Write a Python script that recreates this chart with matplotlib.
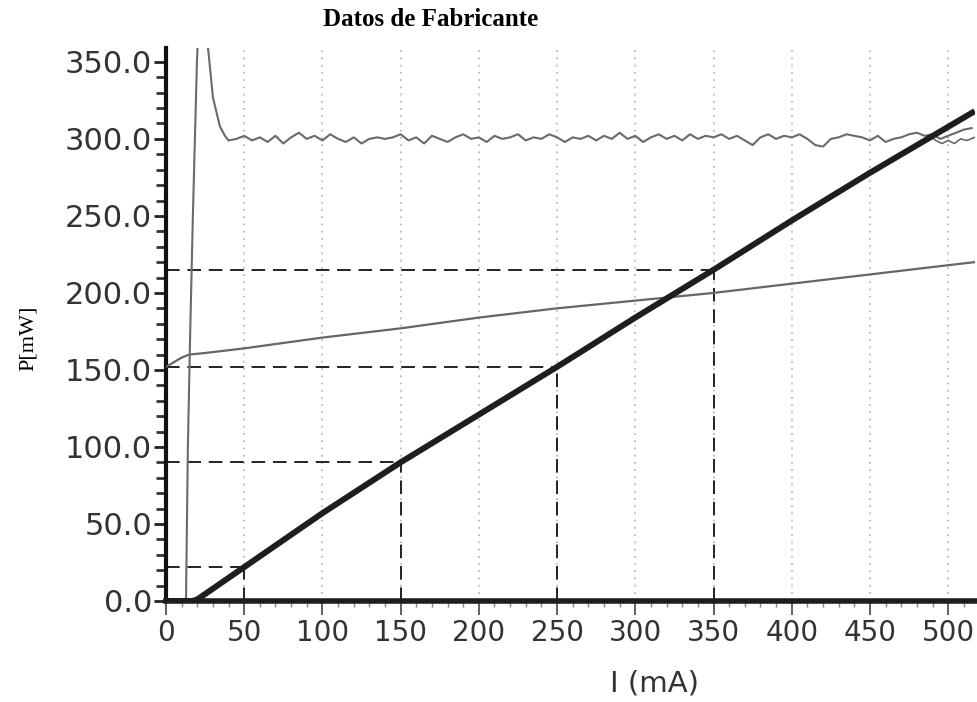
import numpy as np
import matplotlib
matplotlib.use('Agg')
import matplotlib.pyplot as plt
from matplotlib.ticker import MultipleLocator, FormatStrFormatter

# optical power (thick black curve)
power_x = [0, 17, 20, 30, 50, 100, 150, 200, 250, 300, 350, 400, 450, 517]
power_y = [0, 0, 1, 8, 22, 57, 90, 121, 152, 184, 215, 247, 278, 318]

# slowly rising gray curve
volt_x = [0, 5, 10, 15, 25, 50, 100, 150, 200, 250, 300, 350, 400, 450, 500, 517]
volt_y = [152, 155, 158, 160, 161, 164, 171, 177, 184, 190, 195, 200, 206, 212, 218, 220]

# noisy gray curve: spike near threshold, then around 300
spike_x = [12.8, 14, 15.5, 17.2, 18.5, 19.8, 21, 23, 26.8, 30, 34.5, 37.7]
spike_y = [0, 100, 175, 250, 300, 350, 380, 390, 360, 327, 308, 302]
noise_x = list(range(40, 516, 5))
noise_y = [299, 300, 302, 299, 301, 298, 302, 297, 301, 304,
           300, 302, 299, 303, 300, 298, 301, 297, 300, 301,
           300, 301, 303, 299, 301, 297, 302, 300, 298, 301,
           303, 300, 301, 298, 302, 300, 301, 303, 299, 301,
           300, 303, 301, 298, 301, 300, 302, 299, 302, 300,
           304, 300, 302, 298, 301, 303, 300, 302, 299, 303,
           300, 302, 301, 303, 300, 302, 299, 296, 301, 303,
           300, 302, 301, 303, 300, 296, 295, 300, 301, 303,
           302, 301, 299, 302, 298, 300, 301, 303, 304, 302,
           303, 300, 302, 304, 306, 307]
branch_x = [488, 492, 496, 500, 504, 508, 512, 517]
branch_y = [302, 299, 297, 299, 297, 300, 299, 301]

# dashed guide lines
guide_x = [50, 150, 250, 350]
guide_y = [22, 90, 152, 215]

fig = plt.figure(figsize=(9.78, 7.02), dpi=100)
ax = fig.add_axes([0.1697, 0.1439, 0.827, 0.7877])

for g in range(50, 501, 50):
    ax.axvline(g, color='#bbbbbb', lw=1.3, ls=(0, (1, 3)), zorder=0)

for gx, gy in zip(guide_x, guide_y):
    ax.plot([0, gx], [gy, gy], color='#222222', lw=1.4, ls=(0, (7, 4)), zorder=2)
    ax.plot([gx, gx], [0, gy], color='#222222', lw=1.4, ls=(0, (7, 4)), zorder=2)

ax.plot(volt_x, volt_y, color='#666666', lw=1.6, zorder=3)
ax.plot(spike_x + noise_x, spike_y + noise_y, color='#6a6a6a', lw=1.5, zorder=3)
ax.plot(branch_x, branch_y, color='#6a6a6a', lw=1.2, zorder=3)
ax.plot(power_x, power_y, color='#1e1e1e', lw=4.3, solid_capstyle='butt', zorder=4)

ax.set_xlim(0, 517)
ax.set_ylim(0, 359)

ax.spines['top'].set_visible(False)
ax.spines['right'].set_visible(False)
ax.spines['left'].set_linewidth(3)
ax.spines['left'].set_color('#111111')
ax.spines['bottom'].set_linewidth(4)
ax.spines['bottom'].set_color('#1e1e1e')
ax.spines['bottom'].set_zorder(5)

ax.xaxis.set_major_locator(MultipleLocator(50))
ax.xaxis.set_minor_locator(MultipleLocator(10))
ax.yaxis.set_major_locator(MultipleLocator(50))
ax.yaxis.set_minor_locator(MultipleLocator(10))
ax.yaxis.set_major_formatter(FormatStrFormatter('%.1f'))

ax.tick_params(axis='y', which='major', direction='out', length=9, width=2,
               color='#222222', labelsize=22, labelcolor='#333333', pad=1)
ax.tick_params(axis='y', which='minor', direction='out', length=7, width=2,
               color='#333333')
ax.tick_params(axis='x', which='major', direction='out', length=10, width=1.3,
               color='#555555', labelsize=20, labelcolor='#333333', pad=3)
ax.tick_params(axis='x', which='minor', direction='out', length=4, width=1,
               color='#888888')

fig.text(0.44, 0.972, 'Datos de Fabricante', family='Liberation Serif',
         weight='bold', fontsize=18, ha='center', va='center')
fig.text(0.029, 0.518, 'P[mW]', family='Liberation Serif', fontsize=16,
         rotation=90, ha='center', va='center')
fig.text(0.669, 0.027, 'I (mA)', fontsize=21, color='#333333',
         ha='center', va='center')

fig.savefig('out.png', dpi=100)
